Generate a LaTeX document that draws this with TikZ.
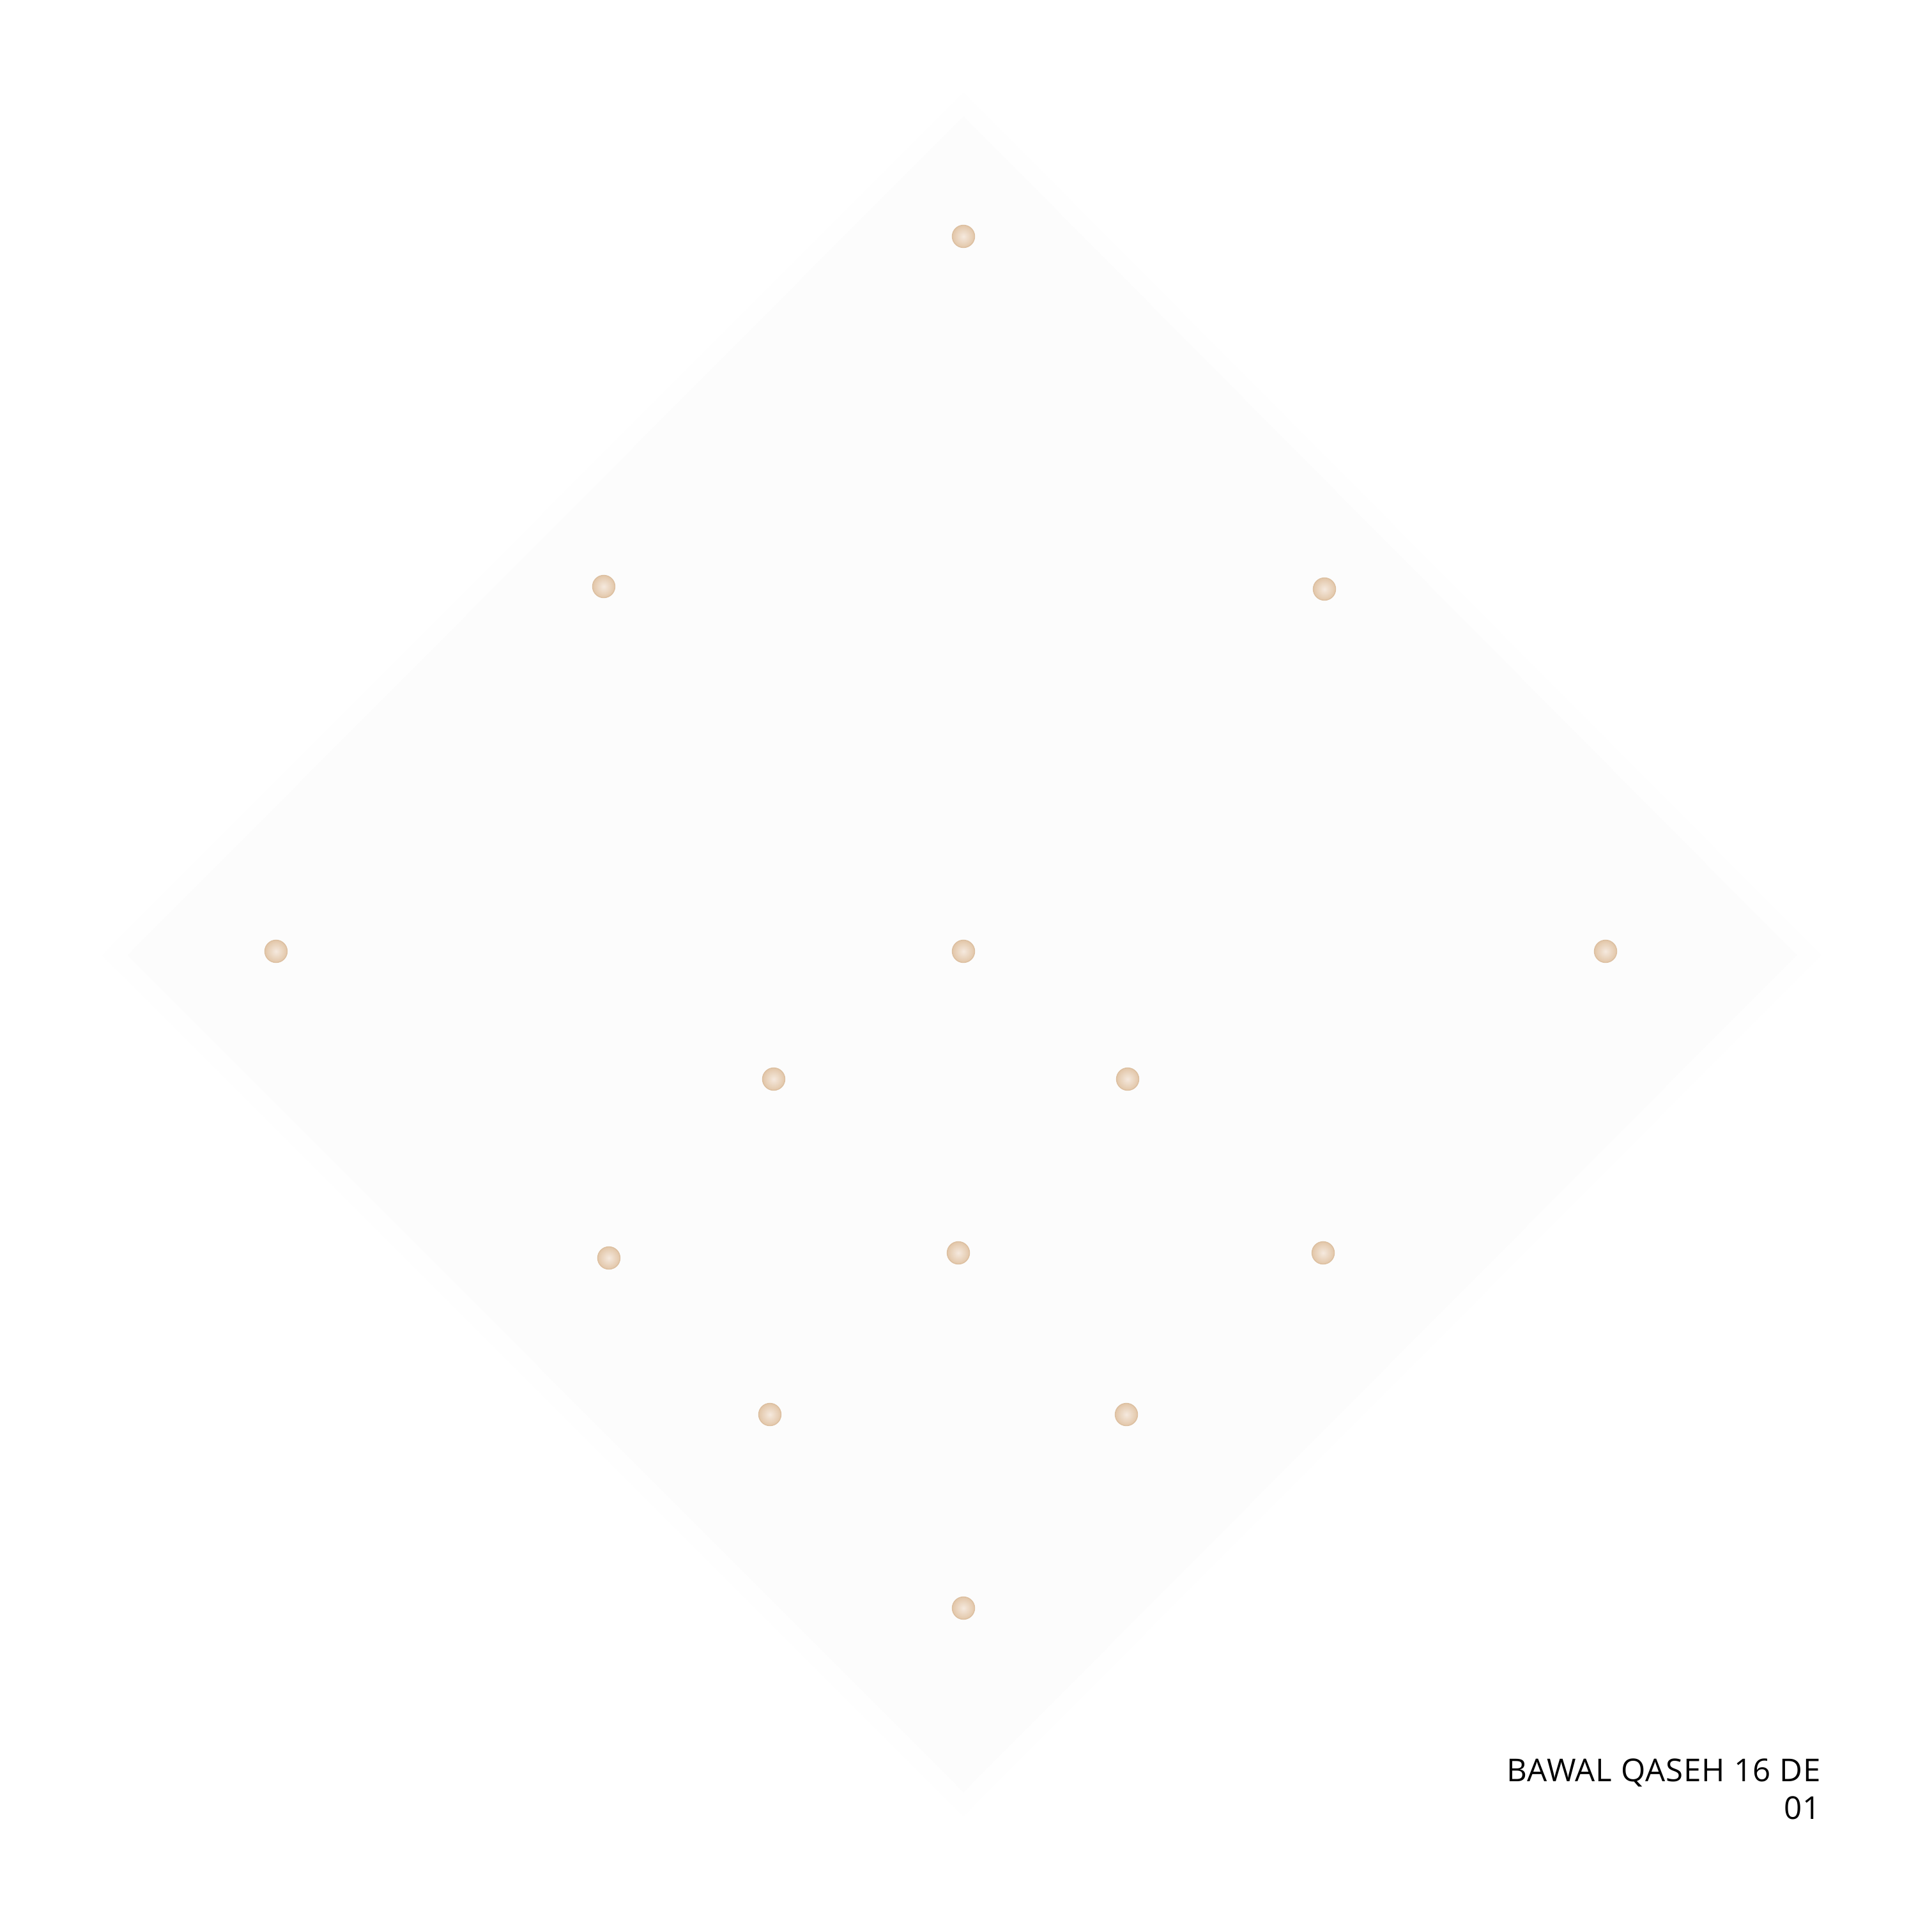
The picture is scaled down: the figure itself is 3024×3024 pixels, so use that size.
\documentclass[tikz,border=0pt]{standalone}
\usepackage{fontspec}
\setmainfont{Open Sans}
\begin{document}
\begin{tikzpicture}[x=0.01cm,y=-0.01cm,
  gem/.style={circle,inner sep=0pt,minimum size=0.35cm,draw=gemedge,line width=0.4pt,
    inner color=gemlight,outer color=gemdark},
  label/.style={inner sep=0pt,font=\fontsize{14}{17}\selectfont\addfontfeature{LetterSpace=2},text=black}]
\definecolor{gemlight}{HTML}{F5E9DE}
\definecolor{gemdark}{HTML}{E2C6A8}
\definecolor{gemedge}{HTML}{DCBFA0}
\definecolor{paper}{HTML}{FCFCFC}
\definecolor{paperedge}{HTML}{FEFEFE}
\useasboundingbox (0,0) rectangle (3024,3024);
\fill[white] (0,0) rectangle (3024,3024);
\fill[paperedge] (160,1495) -- (1508,145) -- (2850,1495) -- (1508,2842) -- cycle;
\fill[paper] (200,1495) -- (1508,182) -- (2812,1495) -- (1508,2805) -- cycle;
\node[gem] (g1) at (1508,370) {};
\node[gem] (g2) at (945,918) {};
\node[gem] (g3) at (2073,922) {};
\node[gem] (g4) at (432,1489) {};
\node[gem] (g5) at (1508,1489) {};
\node[gem] (g6) at (2513,1489) {};
\node[gem] (g7) at (1211,1689) {};
\node[gem] (g8) at (1765,1689) {};
\node[gem] (g9) at (953,1969) {};
\node[gem] (g10) at (1500,1961) {};
\node[gem] (g11) at (2071,1961) {};
\node[gem] (g12) at (1205,2214) {};
\node[gem] (g13) at (1763,2214) {};
\node[gem] (g14) at (1508,2517) {};
\node[label,anchor=base east] (t1) at (2850,2788) {BAWAL QASEH 16 DE};
\node[label,anchor=base east] (t2) at (2850,2847) {01};
\end{tikzpicture}
\end{document}
